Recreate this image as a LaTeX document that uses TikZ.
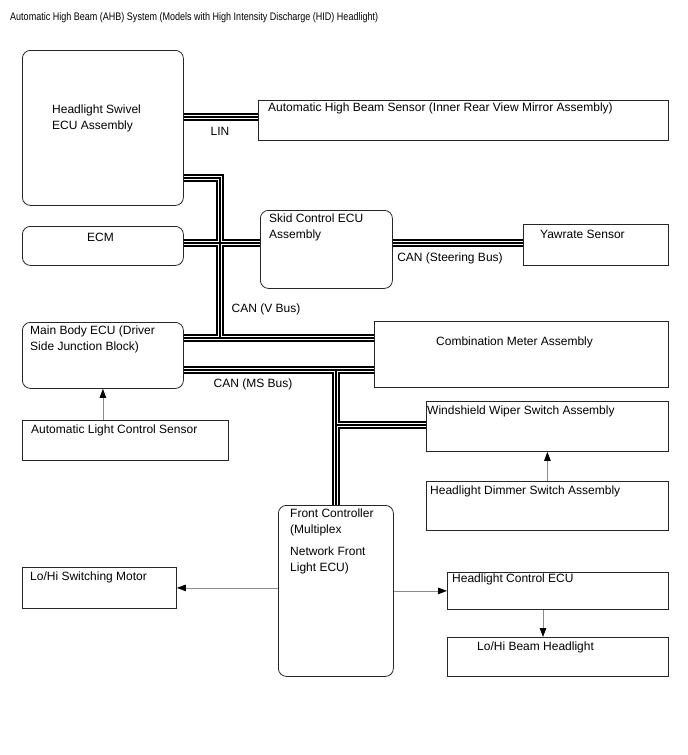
\documentclass[tikz,border=0pt]{standalone}
\usepackage{fontspec}
\setmainfont{Liberation Sans}
\usetikzlibrary{arrows.meta, backgrounds}

\newcommand\busnet{
  (swivel.east |- 0,117) -- (ahb.west |- 0,117)
  (swivel.east |- 0,178) -- (220,178) -- (220,338)
  (ecm.east |- 0,243) -- (skid.west |- 0,243)
  (skid.east |- 0,243) -- (yaw.west |- 0,243)
  (mainbody.east |- 0,338) -- (comb.west |- 0,338)
  (mainbody.east |- 0,370) -- (comb.west |- 0,370)
  (336,370) -- (front.north -| 336,0)
  (336,425) -- (wiper.west |- 0,425)
}

\begin{document}
\begin{tikzpicture}[
    x=1pt, y=-1pt,
    box/.style = {draw=black!85, line width=0.8pt, fill=white, anchor=north west, inner sep=0pt},
    ecu/.style = {box, rounded corners=8pt},
    txt/.style = {anchor=north west, inner sep=0pt, align=left, font=\fontsize{12}{16}\selectfont},
    buslabel/.style = {inner sep=0pt, font=\fontsize{12}{14}\selectfont},
    signal/.style = {draw=black!45, line width=0.8pt, -{Triangle[length=9pt, width=6.5pt, color=black]}}
  ]
  \useasboundingbox (0,0) rectangle (688,755);

  \node[anchor=north west, inner sep=0pt, font=\fontsize{11}{13}\selectfont] (title) at (10,12)
    {\scalebox{0.82}[1]{Automatic High Beam (AHB) System (Models with High Intensity Discharge (HID) Headlight)}};

  \node[ecu, minimum width=161, minimum height=155] (swivel)   at (22,50)   {};
  \node[box, minimum width=410, minimum height=40]  (ahb)      at (258,100) {};
  \node[ecu, minimum width=161, minimum height=39]  (ecm)      at (22,226)  {};
  \node[ecu, minimum width=132, minimum height=78]  (skid)     at (260,210) {};
  \node[box, minimum width=145, minimum height=41]  (yaw)      at (523,224) {};
  \node[ecu, minimum width=161, minimum height=66]  (mainbody) at (22,322)  {};
  \node[box, minimum width=294, minimum height=66]  (comb)     at (374,321) {};
  \node[box, minimum width=206, minimum height=40]  (alcs)     at (22,420)  {};
  \node[box, minimum width=242, minimum height=50]  (wiper)    at (426,401) {};
  \node[box, minimum width=242, minimum height=49]  (dimmer)   at (426,481) {};
  \node[ecu, minimum width=115, minimum height=171] (front)    at (278,505) {};
  \node[box, minimum width=154, minimum height=41]  (motor)    at (22,567)  {};
  \node[box, minimum width=221, minimum height=37]  (hce)      at (447,572) {};
  \node[box, minimum width=221, minimum height=39]  (lobeam)   at (447,637) {};

  \node[txt] (swivel-t)   at ([shift={(30,55)}]swivel.north west)   {Headlight Swivel\\ECU Assembly};
  \node[txt] (ahb-t)      at ([shift={(10,3)}]ahb.north west)       {Automatic High Beam Sensor (Inner Rear View Mirror Assembly)};
  \node[txt] (ecm-t)      at ([shift={(65,7)}]ecm.north west)       {ECM};
  \node[txt] (skid-t)     at ([shift={(9,4)}]skid.north west)       {Skid Control ECU\\Assembly};
  \node[txt] (yaw-t)      at ([shift={(17,6)}]yaw.north west)       {Yawrate Sensor};
  \node[txt] (mainbody-t) at ([shift={(8,4)}]mainbody.north west)   {Main Body ECU (Driver\\Side Junction Block)};
  \node[txt] (comb-t)     at ([shift={(62,16)}]comb.north west)     {Combination Meter Assembly};
  \node[txt] (alcs-t)     at ([shift={(9,5)}]alcs.north west)       {Automatic Light Control Sensor};
  \node[txt] (wiper-t)    at ([shift={(1,5)}]wiper.north west)      {Windshield Wiper Switch Assembly};
  \node[txt] (dimmer-t)   at ([shift={(4,5)}]dimmer.north west)     {Headlight Dimmer Switch Assembly};
  \node[txt] (front-t)    at ([shift={(12,4)}]front.north west)     {Front Controller\\(Multiplex\\[6pt]Network Front\\Light ECU)};
  \node[txt] (motor-t)    at ([shift={(8,5)}]motor.north west)      {Lo/Hi Switching Motor};
  \node[txt] (hce-t)      at ([shift={(5,2)}]hce.north west)        {Headlight Control ECU};
  \node[txt] (lobeam-t)   at ([shift={(30,5)}]lobeam.north west)    {Lo/Hi Beam Headlight};

  \begin{scope}[on background layer]
    \foreach \w/\c in {8/black, 4.6/white, 1.6/black}
      \draw[line width=\w pt, draw=\c] \busnet;
  \end{scope}

  \node[buslabel] (lin)      at (220,131) {LIN};
  \node[buslabel] (canv)     at (266,309) {CAN (V Bus)};
  \node[buslabel] (cansteer) at (450,258) {CAN (Steering Bus)};
  \node[buslabel] (canms)    at (253,384) {CAN (MS Bus)};

  \draw[signal] (alcs.north -| mainbody.south) -- (mainbody.south);
  \draw[signal] (dimmer.north) -- (wiper.south);
  \draw[signal] (front.west |- motor.east) -- (motor.east);
  \draw[signal] (front.east |- hce.west) -- (hce.west);
  \draw[signal] (hce.south -| 543,0) -- (lobeam.north -| 543,0);
\end{tikzpicture}
\end{document}
